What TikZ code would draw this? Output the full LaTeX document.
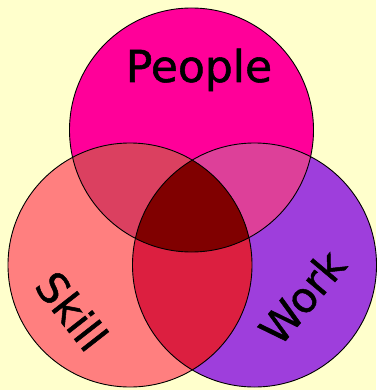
\documentclass[tikz,border=0pt]{standalone}
\usepackage{fontspec}
\setmainfont{DejaVu Sans}
\newfontfamily\lblfont[FakeBold=1.2]{DejaVu Sans}
\definecolor{bg}{HTML}{FFFFCC}
\definecolor{cpeople}{HTML}{FF0099}
\definecolor{cskill}{HTML}{FF7F7F}
\definecolor{cwork}{HTML}{9E3EDC}
\definecolor{cps}{HTML}{DB4060}
\definecolor{cpw}{HTML}{DD4099}
\definecolor{csw}{HTML}{DC1F40}
\definecolor{call}{HTML}{800000}
\tikzset{
  lbl/.style={inner sep=0pt, font=\lblfont\fontsize{44}{50}\selectfont, text=black},
  outline/.style={draw=black, line width=0.9pt}
}
\begin{document}
\begin{tikzpicture}[x=1pt,y=-1pt]
\fill[bg] (0,0) rectangle (376,390);
\useasboundingbox (0,0) rectangle (376,390);
\coordinate (P) at (191.5,130);
\coordinate (S) at (130,265);
\coordinate (W) at (254.5,265);
\fill[cpeople] (P) circle[radius=122pt];
\fill[cskill] (S) circle[radius=122pt];
\fill[cwork] (W) circle[radius=122pt];
\begin{scope}
  \clip (P) circle[radius=122pt];
  \fill[cps] (S) circle[radius=122pt];
  \fill[cpw] (W) circle[radius=122pt];
\end{scope}
\begin{scope}
  \clip (S) circle[radius=122pt];
  \fill[csw] (W) circle[radius=122pt];
\end{scope}
\begin{scope}
  \clip (P) circle[radius=122pt];
  \clip (S) circle[radius=122pt];
  \fill[call] (W) circle[radius=122pt];
\end{scope}
\draw[outline] (P) circle[radius=122pt];
\draw[outline] (S) circle[radius=122pt];
\draw[outline] (W) circle[radius=122pt];
\node[lbl, anchor=base] (people) at (199,82) {People};
\node[lbl, rotate=-52, font=\lblfont\fontsize{42}{48}\selectfont] (skill) at (72,311) {Skill};
\node[lbl, rotate=50, font=\lblfont\fontsize{42}{48}\selectfont] (work) at (302,297) {Work};
\end{tikzpicture}
\end{document}
